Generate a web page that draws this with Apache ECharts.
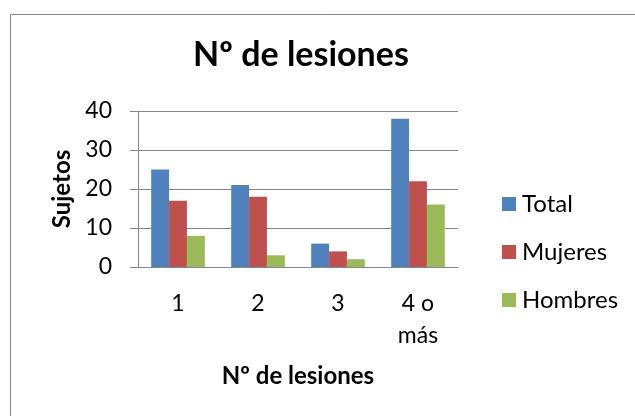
<!DOCTYPE html>
<html>
<head>
<meta charset="utf-8">
<script src="https://cdn.jsdelivr.net/npm/echarts@6/dist/echarts.min.js"></script>
<style>
  html, body { margin: 0; padding: 0; background: #ffffff; }
  #chart { width: 635px; height: 416px; }
</style>
</head>
<body>
<div id="chart"></div>
<script>
// Number of injuries per subject group
const categories = ['1', '2', '3', '4 o más'];
const totalValues = [25, 21, 6, 38];
const mujeresValues = [17, 18, 4, 22];
const hombresValues = [8, 3, 2, 16];
const seriesNames = ['Total', 'Mujeres', 'Hombres'];

const FONT = 'Lato';
const GRAY = '#868686';

const chart = echarts.init(document.getElementById('chart'), null, { renderer: 'canvas' });

function barSeries(name, data, color) {
  return {
    name: name,
    type: 'bar',
    data: data,
    barGap: '0%',
    barCategoryGap: '33%',
    itemStyle: { color: color },
    emphasis: { disabled: true }
  };
}

chart.setOption({
  animation: false,
  backgroundColor: '#ffffff',
  textStyle: { fontFamily: FONT },
  graphic: [{
    type: 'rect',
    shape: { x: 10.5, y: 14.5, width: 700, height: 500 },
    style: { fill: 'none', stroke: GRAY, lineWidth: 1 },
    silent: true
  }],
  title: {
    text: 'Nº de lesiones',
    left: 296,
    textAlign: 'center',
    top: 33,
    textStyle: { fontFamily: FONT, fontSize: 34, fontWeight: 'bold', color: '#000' }
  },
  legend: {
    orient: 'vertical',
    left: 502,
    top: 191,
    padding: 0,
    itemWidth: 14,
    itemHeight: 14,
    itemGap: 22,
    icon: 'rect',
    data: seriesNames,
    textStyle: { fontFamily: FONT, fontSize: 24, lineHeight: 26, color: '#000', padding: [0, 0, 0, 1] }
  },
  grid: { left: 138, right: 177, top: 111, bottom: 149, containLabel: false },
  xAxis: {
    type: 'category',
    data: categories,
    name: 'Nº de lesiones',
    nameLocation: 'middle',
    nameGap: 97,
    nameTextStyle: { fontFamily: FONT, fontSize: 24, fontWeight: 'bold', color: '#000' },
    axisLine: { lineStyle: { color: GRAY, width: 1 } },
    axisTick: { show: false },
    axisLabel: {
      fontFamily: FONT, fontSize: 23, color: '#000', margin: 21, lineHeight: 32,
      formatter: v => v.replace(' o ', ' o\n')
    }
  },
  yAxis: {
    type: 'value',
    min: 0, max: 40, interval: 10,
    name: 'Sujetos',
    nameLocation: 'middle',
    nameGap: 63,
    nameRotate: 90,
    nameTextStyle: { fontFamily: FONT, fontSize: 24, fontWeight: 'bold', color: '#000' },
    axisLine: { show: true, lineStyle: { color: GRAY, width: 1 } },
    axisTick: { show: true, length: 8, lineStyle: { color: GRAY } },
    axisLabel: { fontFamily: FONT, fontSize: 23, color: '#000', margin: 26 },
    splitLine: { lineStyle: { color: GRAY, width: 1 } }
  },
  series: [
    barSeries(seriesNames[0], totalValues, '#4F81BD'),
    barSeries(seriesNames[1], mujeresValues, '#C0504D'),
    barSeries(seriesNames[2], hombresValues, '#9BBB59')
  ]
});
</script>
</body>
</html>
